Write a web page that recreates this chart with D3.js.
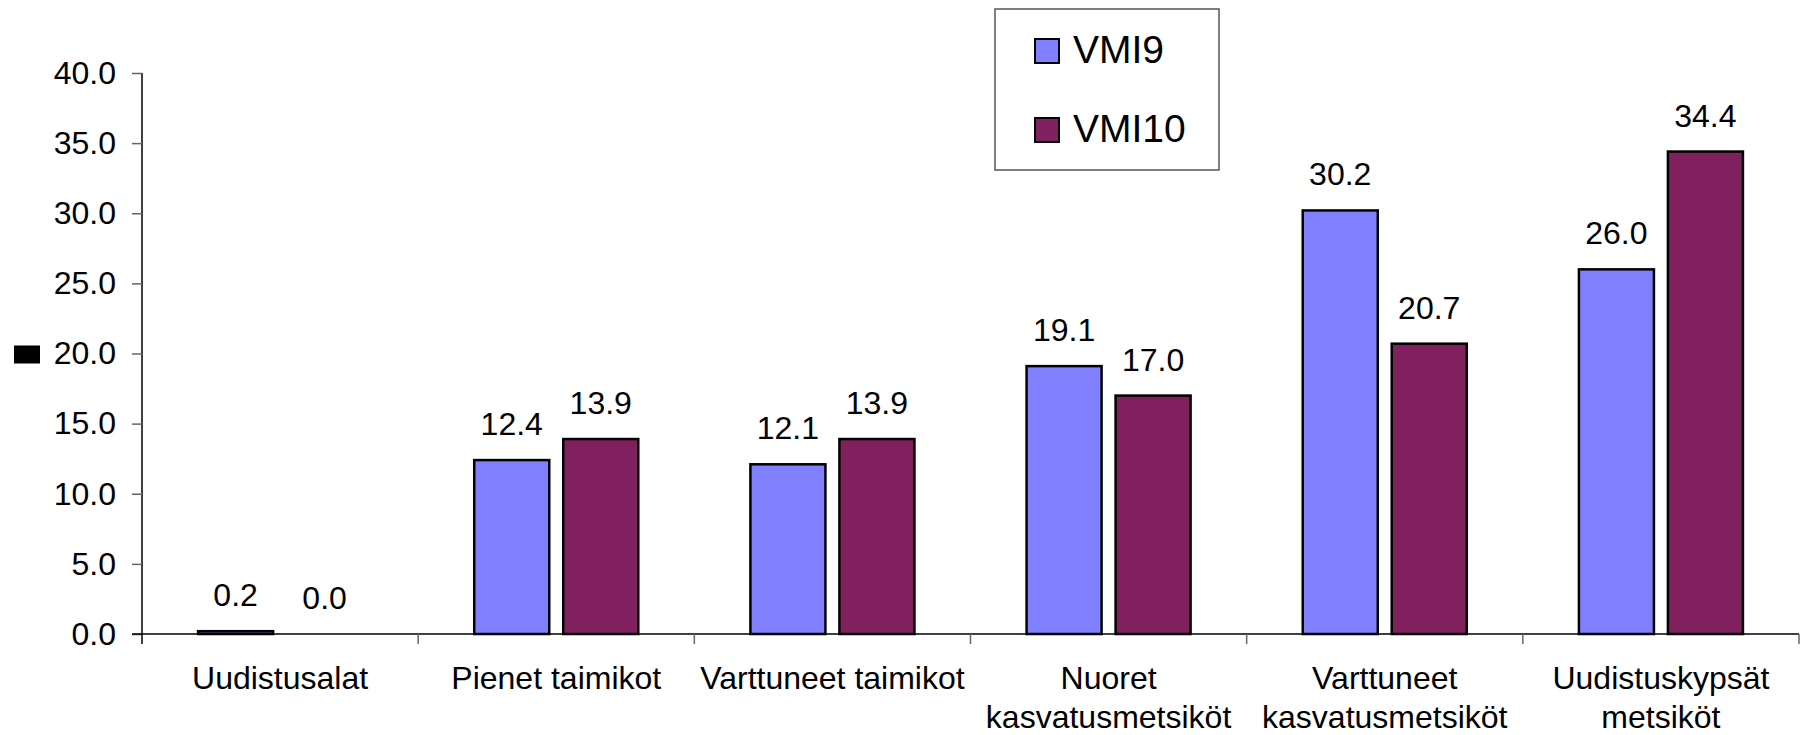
<!DOCTYPE html>
<html>
<head>
<meta charset="utf-8">
<script src="https://cdn.jsdelivr.net/npm/d3@7"></script>
<style>
  body { margin: 0; background: #fff; }
  svg { display: block; font-family: "Liberation Sans", Arial, sans-serif; }
</style>
</head>
<body>
<script>
// data
const categories = [
  ["Uudistusalat"],
  ["Pienet taimikot"],
  ["Varttuneet taimikot"],
  ["Nuoret", "kasvatusmetsiköt"],
  ["Varttuneet", "kasvatusmetsiköt"],
  ["Uudistuskypsät", "metsiköt"]
];
const series = ["VMI9", "VMI10"];
const vmi9 = [0.2, 12.4, 12.1, 19.1, 30.2, 26.0];
const vmi10 = [0.0, 13.9, 13.9, 17.0, 20.7, 34.4];
const yTicks = [0, 5, 10, 15, 20, 25, 30, 35, 40];
const colors = ["#8080ff", "#80205f"];

const W = 1802, H = 735;
const plot = { left: 142, right: 1799, top: 73, bottom: 634 }; // plotgebied

const svg = d3.select("body").append("svg")
  .attr("width", W).attr("height", H);

const catKeys = categories.map((c, i) => i);
const x0 = d3.scaleBand().domain(catKeys).range([plot.left, plot.right]); // categorie-banden
const x1 = d3.scaleBand().domain(series).range([0, x0.bandwidth()])
  .paddingInner(0.157).paddingOuter(0.63); // twee staven per categorie
const y = d3.scaleLinear().domain([0, 40]).range([plot.bottom, plot.top]);

// y as
const yAxis = svg.append("g")
  .attr("transform", `translate(${plot.left},0)`)
  .call(d3.axisLeft(y).tickValues(yTicks).tickFormat(d3.format(".1f")).tickSize(10).tickPadding(16));
yAxis.select(".domain").attr("stroke", "#000").attr("stroke-width", 1.5)
  .attr("d", `M0,${plot.top}V${plot.bottom + 10}`);
yAxis.selectAll(".tick line").attr("stroke", "#666").attr("stroke-width", 1.5);
yAxis.selectAll(".tick text").attr("font-size", 32).attr("fill", "#000")
  .attr("font-family", "Liberation Sans, Arial, sans-serif");

// x as
const xAxis = svg.append("g").attr("transform", `translate(0,${plot.bottom})`);
xAxis.append("line").attr("x1", plot.left - 10).attr("x2", plot.right)
  .attr("stroke", "#000").attr("stroke-width", 1.5);
const tickPos = catKeys.map(i => x0(i)).concat([plot.right]);
xAxis.selectAll("line.ct").data(tickPos.slice(1)).join("line")
  .attr("class", "ct")
  .attr("x1", d => d).attr("x2", d => d)
  .attr("y1", 0).attr("y2", 10)
  .attr("stroke", "#666").attr("stroke-width", 1.5);

// categorie labels
const lab = svg.append("g").selectAll("text").data(categories).join("text")
  .attr("x", (d, i) => x0(i) + x0.bandwidth() / 2)
  .attr("y", 689)
  .attr("text-anchor", "middle")
  .attr("font-size", 32)
  .attr("fill", "#000");
lab.each(function (d) {
  const cx = d3.select(this).attr("x");
  d3.select(this).selectAll("tspan").data(d).join("tspan")
    .attr("x", cx)
    .attr("dy", (t, j) => j === 0 ? 0 : 39)
    .text(t => t);
});

// staven
const rows = catKeys.map(i => ({ i, vals: [vmi9[i], vmi10[i]] }));
const groups = svg.append("g").selectAll("g").data(rows).join("g")
  .attr("transform", d => `translate(${x0(d.i)},0)`);

groups.selectAll("rect").data(d => d.vals.map((v, k) => ({ v, k })).filter(d => d.v > 0))
  .join("rect")
  .attr("x", d => x1(series[d.k]))
  .attr("width", x1.bandwidth())
  .attr("y", d => y(d.v))
  .attr("height", d => plot.bottom - y(d.v))
  .attr("fill", d => colors[d.k])
  .attr("stroke", "#000")
  .attr("stroke-width", 2.5);

groups.selectAll("text").data(d => d.vals.map((v, k) => ({ v, k })))
  .join("text")
  .attr("x", d => x1(series[d.k]) + x1.bandwidth() / 2)
  .attr("y", d => y(d.v) - 25)
  .attr("text-anchor", "middle")
  .attr("font-size", 32)
  .attr("fill", "#000")
  .text(d => d.v.toFixed(1));

// y as titel (zwart blokje)
svg.append("rect")
  .attr("x", 14).attr("y", (plot.top + plot.bottom) / 2 - 8)
  .attr("width", 26).attr("height", 18)
  .attr("fill", "#000");

// legenda
const legend = svg.append("g");
legend.append("rect")
  .attr("x", 995).attr("y", 9).attr("width", 224).attr("height", 161)
  .attr("fill", "#fff").attr("stroke", "#555").attr("stroke-width", 1.5);
const li = legend.selectAll("g.li").data(series).join("g")
  .attr("class", "li")
  .attr("transform", (d, k) => `translate(1035,${39 + k * 79})`);
li.append("rect").attr("width", 24).attr("height", 24)
  .attr("fill", (d, k) => colors[k]).attr("stroke", "#000").attr("stroke-width", 2);
li.append("text").attr("x", 38).attr("y", 24)
  .attr("font-size", 39).attr("fill", "#000")
  .text(d => d);
</script>
</body>
</html>
